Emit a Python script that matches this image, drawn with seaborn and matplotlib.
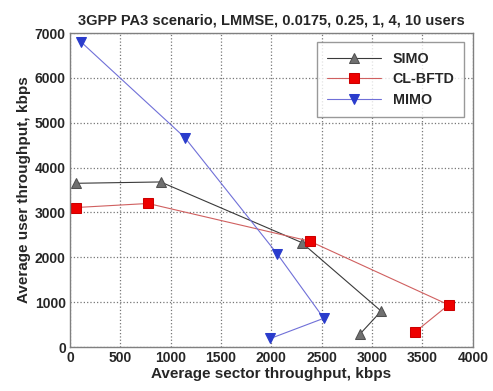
import pandas as pd
import seaborn as sns
import matplotlib.pyplot as plt

# values (kbps)
simo_x = [60, 900, 2300, 3090, 2880]
simo_y = [3650, 3680, 2330, 800, 290]
bftd_x = [60, 775, 2380, 3760, 3430]
bftd_y = [3110, 3200, 2360, 940, 340]
mimo_x = [110, 1140, 2060, 2520, 1990]
mimo_y = [6800, 4670, 2070, 640, 190]

series = ['SIMO', 'CL-BFTD', 'MIMO']
xs = [simo_x, bftd_x, mimo_x]
ys = [simo_y, bftd_y, mimo_y]

sns.set_style('white')
plt.rcParams['font.family'] = ['Liberation Sans', 'DejaVu Sans']
plt.rcParams['font.weight'] = 'bold'

styles = {
    'SIMO': dict(color='#3a3a3a', marker='^', mfc='#707070', mec='#505050', ms=7),
    'CL-BFTD': dict(color='#d06060', marker='s', mfc='#ee0000', mec='#cc0000', ms=7),
    'MIMO': dict(color='#7070d8', marker='v', mfc='#2a3ccc', mec='#2a3ccc', ms=7),
}

fig = plt.figure(figsize=(4.93, 3.91), dpi=100)
ax = fig.add_axes([0.142, 0.1125, 0.817, 0.803])

for name, x, y in zip(series, xs, ys):
    df = pd.DataFrame({'x': x, 'y': y})
    st = styles[name]
    sns.lineplot(data=df, x='x', y='y', sort=False, ax=ax, label=name,
                 color=st['color'], marker=st['marker'], markersize=st['ms'],
                 markerfacecolor=st['mfc'], markeredgecolor=st['mec'],
                 linewidth=0.8)

ax.set_xlim(0, 4000)
ax.set_ylim(0, 7000)
ax.set_xticks(range(0, 4001, 500))
ax.set_yticks(range(0, 7001, 1000))
ax.grid(True, linestyle=':', color='#777777', linewidth=0.9)
ax.tick_params(direction='in', length=4, labelsize=10, color='#555555', pad=3)
for lab in ax.get_xticklabels() + ax.get_yticklabels():
    lab.set_fontweight('bold')
for sp in ax.spines.values():
    sp.set_color('#808080')
    sp.set_linewidth(1.0)

ax.set_xlabel('Average sector throughput, kbps', fontsize=11, fontweight='bold', labelpad=1)
ax.set_ylabel('Average user throughput, kbps', fontsize=11, fontweight='bold', labelpad=3)
ax.set_title('3GPP PA3 scenario, LMMSE, 0.0175, 0.25, 1, 4, 10 users',
             fontsize=10.5, fontweight='bold', pad=6)

leg = ax.legend(loc='upper right', bbox_to_anchor=(0.99, 0.985), fancybox=False,
                frameon=True, edgecolor='#808080', fontsize=10.3, handlelength=3.8,
                borderpad=0.7, labelspacing=0.45, borderaxespad=0.3)
leg.get_frame().set_linewidth(1.0)
for t in leg.get_texts():
    t.set_fontweight('bold')

fig.savefig('out.png', dpi=100)
